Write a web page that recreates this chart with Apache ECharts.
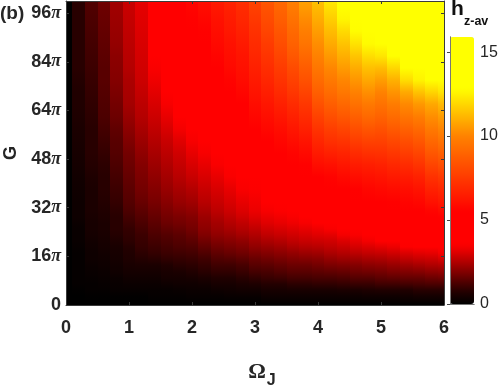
<!DOCTYPE html>
<html>
<head>
<meta charset="utf-8">
<style>html,body{margin:0;padding:0;background:#fff}#c{width:498px;height:387px}</style>
<script src="https://cdn.jsdelivr.net/npm/echarts@6/dist/echarts.min.js"></script>
</head>
<body>
<div id="c"></div>
<script>
const omega = [0,0.2,0.4,0.6,0.8,1,1.2,1.4,1.6,1.8,2,2.2,2.4,2.6,2.8,3,3.2,3.4,3.6,3.8,4,4.2,4.4,4.6,4.8,5,5.2,5.4,5.6,5.8,6];
const gPi = [0,2,4,6,8,10,12,14,16,18,20,22,24,26,28,30,32,36,40,44,48,52,56,60,64,68,72,76,80,84,88,92,96,100];
const xTickLabels = ['0','1','2','3','4','5','6'];
const yTickLabels = ['0','16','32','48','64','84','96'];
const colorbarTicks = ['0','5','10','15'];
// one list per Omega column, running up through gPi
const hzAv = [
[0,0,0,0,0,0,0,0,0,0,0,0,0,0,0,0,0,0,0,0,0,0,0,0,0,0,0,0,0,0,0,0,0,0],
[0,0,0,.1,.1,.1,.1,.1,.1,.1,.2,.2,.2,.2,.3,.3,.3,.3,.4,.4,.5,.5,.6,.6,.7,.7,.7,.8,.8,.8,.8,.8,.8,.8],
[0,0,.1,.1,.1,.2,.2,.3,.3,.3,.4,.4,.5,.5,.5,.6,.6,.6,.6,.7,.8,.8,.8,.8,.9,.9,1,1,1.1,1.1,1.2,1.2,1.3,1.3],
[0,0,.1,.1,.2,.2,.3,.3,.4,.4,.5,.5,.6,.6,.6,.7,.7,.8,.8,.8,.9,1,1.1,1.2,1.3,1.3,1.4,1.4,1.4,1.5,1.5,1.6,1.6,1.7],
[0,0,.1,.2,.2,.3,.4,.4,.5,.5,.6,.7,.8,.8,.8,.8,.9,1,1.1,1.2,1.3,1.4,1.4,1.6,1.7,1.8,1.9,2,2,2.1,2.2,2.2,2.3,2.3],
[0,0,.1,.2,.3,.4,.5,.6,.7,.7,.8,.9,.9,1,1.1,1.2,1.3,1.4,1.5,1.6,1.7,1.8,2,2.1,2.3,2.4,2.4,2.5,2.6,2.6,2.7,2.7,2.8,2.8],
[0,0,.1,.2,.3,.4,.5,.7,.8,.9,1,1,1.1,1.2,1.3,1.4,1.5,1.7,1.8,1.9,2,2.2,2.3,2.5,2.6,2.7,2.8,2.9,2.9,3,3,3.1,3.1,3.2],
[0,.1,.1,.2,.3,.4,.5,.7,.9,1,1.1,1.2,1.3,1.4,1.5,1.6,1.7,1.9,2,2.2,2.3,2.5,2.6,2.8,2.9,3.1,3.2,3.4,3.6,3.7,3.9,3.9,4,4],
[0,.1,.1,.2,.4,.5,.6,.8,1,1.1,1.2,1.3,1.4,1.6,1.7,1.8,1.9,2.1,2.3,2.4,2.6,2.7,2.9,3.1,3.3,3.6,3.7,3.9,4.2,4.3,4.5,4.6,4.7,4.8],
[0,.1,.1,.3,.4,.5,.7,.9,1,1.2,1.3,1.4,1.5,1.7,1.8,1.9,2.1,2.3,2.5,2.7,2.8,3,3.2,3.6,3.7,4.1,4.3,4.5,4.7,4.9,5,5.2,5.3,5.4],
[0,.1,.2,.3,.4,.6,.8,.9,1.1,1.2,1.4,1.5,1.7,1.8,1.9,2,2.2,2.4,2.7,2.9,3.1,3.3,3.6,4,4.2,4.4,4.6,4.8,5,5.2,5.3,5.5,5.6,5.7],
[0,.1,.2,.3,.5,.7,.9,1,1.2,1.4,1.6,1.8,2,2.1,2.2,2.3,2.5,2.7,2.9,3.1,3.3,3.6,3.8,4.1,4.3,4.5,4.7,5,5.2,5.4,5.5,5.6,5.8,6],
[0,.1,.2,.4,.6,.8,1,1.2,1.4,1.6,1.8,2,2.2,2.3,2.4,2.6,2.7,2.9,3.1,3.3,3.7,4.1,4.3,4.6,4.8,5,5.2,5.4,5.6,5.7,5.9,6,6.2,6.4],
[0,.1,.3,.4,.6,.8,1,1.2,1.5,1.7,1.9,2.1,2.3,2.5,2.6,2.8,2.9,3.1,3.3,3.7,4.2,4.4,4.7,4.9,5.1,5.3,5.5,5.7,5.9,6,6.2,6.4,6.5,6.7],
[0,.1,.3,.5,.7,.9,1.1,1.3,1.6,1.8,2,2.2,2.5,2.6,2.8,3,3.1,3.3,3.7,4.2,4.5,4.7,5,5.2,5.4,5.6,5.8,6,6.1,6.3,6.5,6.7,6.9,7.1],
[0,.1,.3,.5,.8,1,1.3,1.5,1.7,2,2.2,2.4,2.6,2.8,3,3.2,3.3,3.4,3.7,4.3,4.8,5.1,5.3,5.6,5.8,6.1,6.3,6.5,6.7,6.9,7.1,7.3,7.6,7.8],
[0,.2,.4,.6,.9,1.1,1.3,1.6,1.8,2.1,2.3,2.6,2.8,3,3.2,3.3,3.6,4.1,4.4,4.8,5.1,5.4,5.6,5.9,6.1,6.4,6.7,6.9,7.2,7.4,7.7,8,8.2,8.5],
[0,.2,.4,.6,.9,1.2,1.4,1.7,1.9,2.2,2.4,2.7,2.9,3.1,3.3,3.4,3.7,4.3,4.7,5,5.3,5.6,5.8,6.1,6.4,6.8,7.1,7.4,7.7,8,8.3,8.6,8.9,9.1],
[0,.2,.4,.7,1,1.3,1.5,1.8,2,2.3,2.6,2.8,3,3.2,3.4,3.6,4.1,4.5,4.9,5.2,5.5,5.8,6.1,6.4,6.8,7.2,7.6,7.9,8.3,8.7,9,9.3,9.6,9.9],
[0,.2,.4,.7,1,1.3,1.5,1.8,2.1,2.4,2.7,2.9,3.1,3.3,3.6,4.1,4.4,4.8,5.1,5.4,5.7,6,6.4,6.8,7.2,7.6,8.1,8.5,8.9,9.3,9.7,10,10.4,10.7],
[0,.2,.4,.7,1.1,1.3,1.6,1.9,2.1,2.5,2.7,3,3.2,3.4,4,4.3,4.6,5,5.3,5.7,6.2,6.6,7,7.5,8,8.6,9,9.4,9.8,10.1,10.4,10.8,11.1,11.4],
[0,.2,.4,.7,1.1,1.3,1.7,2,2.3,2.6,2.8,3,3.3,3.7,4.2,4.5,4.8,5.1,5.4,5.8,6.3,6.9,7.4,7.9,8.5,9,9.5,9.9,10.3,10.7,11.1,11.5,11.9,12.3],
[0,.2,.4,.8,1.1,1.4,1.7,2.1,2.4,2.7,2.9,3.2,3.6,4.1,4.4,4.7,5,5.3,5.6,6,6.5,7,7.6,8.2,8.8,9.4,9.9,10.3,10.8,11.2,11.7,12.3,12.9,13.2],
[0,.2,.4,.8,1.2,1.5,1.8,2.1,2.5,2.8,3.1,3.3,3.7,4.2,4.5,4.8,5.1,5.4,5.7,6.2,6.7,7.3,7.9,8.5,9.1,9.7,10.2,10.7,11.2,11.8,12.5,13,13.4,13.8],
[0,.2,.5,.8,1.2,1.5,1.9,2.2,2.6,2.9,3.2,3.6,4.1,4.4,4.7,5,5.2,5.5,5.9,6.3,6.8,7.5,8.1,8.8,9.4,10,10.6,11.1,11.7,12.4,13,13.5,14,14.4],
[0,.2,.5,.9,1.3,1.6,1.9,2.3,2.6,3,3.3,3.9,4.2,4.5,4.8,5.1,5.3,5.6,6,6.4,6.9,7.5,8,8.6,9.2,9.7,10.3,10.9,11.7,12.8,13.5,14,14.5,15],
[0,.2,.5,.9,1.3,1.7,2,2.4,2.7,3.1,3.4,4,4.3,4.6,4.9,5.2,5.4,5.7,6.1,6.6,7.1,7.7,8.3,8.9,9.5,10.1,10.7,11.4,12.4,13.2,13.8,14.4,14.9,15.2],
[0,.3,.5,.9,1.4,1.7,2.1,2.5,2.9,3.2,3.9,4.2,4.5,4.8,5,5.3,5.5,5.8,6.2,6.7,7.3,7.9,8.5,9.2,9.8,10.5,11.3,12.8,13.5,14,14.5,15,15.3,15.5],
[0,.3,.6,1,1.4,1.7,2.2,2.6,3,3.3,4,4.3,4.6,4.9,5.1,5.4,5.6,5.9,6.4,6.9,7.6,8.2,8.8,9.5,10.1,10.9,12,13.1,13.8,14.3,14.8,15.2,15.5,15.7],
[0,.3,.6,1,1.5,1.8,2.3,2.7,3,3.4,4.1,4.4,4.7,5,5.3,5.5,5.8,6.4,6.9,7.5,8.2,8.8,9.4,10,10.5,11.2,12.5,13.4,14,14.5,15,15.4,15.6,15.8],
[0,.3,.6,1,1.5,1.9,2.3,2.8,3.2,3.6,4.2,4.5,4.8,5.1,5.4,5.7,6,6.6,7.1,7.8,8.5,9.1,9.8,10.3,10.8,11.6,12.8,13.6,14.2,14.7,15.2,15.5,15.7,15.9]
];
const hMax = 15.9;
const colorStops = [[0,[0,0,0]],[.7,[32,0,0]],[3.3,[240,0,0]],[3.6,[255,0,0]],[5.5,[255,0,0]],[10,[255,130,0]],[12.8,[255,255,0]],[15.9,[255,255,0]]];
function colorAt(v){
  for(let i=1;i<colorStops.length;i++){
    const a=colorStops[i-1],b=colorStops[i];
    if(v<=b[0]){
      const t=(v-a[0])/(b[0]-a[0]);
      const c=a[1].map((p,k)=>Math.round(p+(b[1][k]-p)*t));
      return 'rgb('+c.join(',')+')';
    }
  }
  return 'rgb(255,255,0)';
}
const palette=[];
for(let i=0;i<=64;i++) palette.push(colorAt(hMax*i/64));

const cells=[];
omega.forEach((o,i)=>gPi.forEach((g,j)=>{
  const col=hzAv[i], last=gPi.length-1;
  const lo=j?(g+gPi[j-1])/2:g;
  const hi=j<last?(g+gPi[j+1])/2:g;
  const vLo=j?(col[j]+col[j-1])/2:col[j];
  const vHi=j<last?(col[j]+col[j+1])/2:col[j];
  cells.push([o,g,col[j],lo,hi,vLo,vHi]);
}));

const INK='#262626', FRAME='#3a3a3a', SANS='"Liberation Sans",Arial,sans-serif', SERIF='"Liberation Serif",serif';
const sideAxis=(extra)=>Object.assign({type:'value',z:10,splitLine:{show:false},
  axisLine:{show:true,onZero:false,lineStyle:{color:FRAME,width:1}},
  axisTick:{show:true,inside:true,length:3,lineStyle:{color:FRAME,width:1}},
  axisLabel:{show:false}},extra);

const chart=echarts.init(document.getElementById('c'),null,{renderer:'canvas'});
chart.setOption({
  animation:false,
  backgroundColor:'#fff',
  grid:[
    {left:66,right:54,top:1,bottom:82,outerBoundsMode:'none'},
    {left:450,right:24,top:37,bottom:83,outerBoundsMode:'none'}
  ],
  visualMap:{
    type:'continuous',min:0,max:hMax,dimension:2,seriesIndex:0,
    left:450,top:37,itemWidth:24,itemHeight:267,padding:0,
    calculable:false,realtime:false,hoverLink:false,
    inRange:{color:palette},textStyle:{color:'transparent'}
  },
  xAxis:[
    sideAxis({gridIndex:0,position:'bottom',min:0,max:6,interval:1,name:'{o|Ω}{s|J}',nameLocation:'middle',nameGap:50,
      nameTextStyle:{padding:[0,0,0,14],rich:{
        o:{fontFamily:SERIF,fontWeight:'bold',fontSize:22,color:INK},
        s:{fontFamily:SANS,fontWeight:'bold',fontSize:16,color:INK,padding:[18,0,0,1]}}},
      axisLabel:{show:true,margin:14,color:INK,fontFamily:SANS,fontWeight:'bold',fontSize:18,
        formatter:(v)=>xTickLabels[v]}}),
    sideAxis({gridIndex:0,position:'top',min:0,max:6,interval:1}),
    sideAxis({gridIndex:1,position:'bottom',min:0,max:1,axisTick:{show:false},axisLine:{lineStyle:{color:'#777'}}}),
    sideAxis({gridIndex:1,position:'top',min:0,max:1,axisTick:{show:false},axisLine:{lineStyle:{color:'#777'}}})
  ],
  yAxis:[
    sideAxis({gridIndex:0,position:'left',min:0,max:100,interval:16,name:'G',nameLocation:'middle',nameGap:44,nameRotate:90,
      nameTextStyle:{fontFamily:SANS,fontWeight:'bold',fontSize:18,color:INK},
      axisLabel:{show:true,margin:5,showMaxLabel:false,
        formatter:(v)=>{const t=yTickLabels[v/16];return t===undefined?'':(v===0?'{n|'+t+'}':'{n|'+t+'}{p|π}');},
        rich:{n:{fontFamily:SANS,fontWeight:'bold',fontSize:18,color:INK},
              p:{fontFamily:SERIF,fontWeight:'bold',fontStyle:'italic',fontSize:18,color:INK}}}}),
    sideAxis({gridIndex:0,position:'right',min:0,max:100,interval:16}),
    sideAxis({gridIndex:1,position:'right',min:0,max:hMax,interval:5,axisLine:{lineStyle:{color:'#777'}},
      axisTick:{inside:true,length:3,lineStyle:{color:'#444'}},
      axisLabel:{show:true,margin:6,color:INK,fontFamily:SANS,fontSize:16,showMaxLabel:false,
        formatter:(v)=>colorbarTicks[v/5]||''}}),
    sideAxis({gridIndex:1,position:'left',min:0,max:hMax,axisTick:{show:false},axisLine:{lineStyle:{color:'#777'}}})
  ],
  series:[{
    type:'custom',xAxisIndex:0,yAxisIndex:0,clip:true,silent:true,
    encode:{x:0,y:1},
    data:cells,
    renderItem:(params,api)=>{
      const o=api.value(0),lo=api.value(3),hi=api.value(4);
      const p0=api.coord([o-0.1,hi]),p1=api.coord([o+0.1,lo]);
      const x0=Math.round(p0[0]),x1=Math.round(p1[0]),y0=Math.round(p0[1]),y1=Math.round(p1[1]);
      return {type:'rect',shape:{x:x0,y:y0,width:x1-x0,height:y1-y0},
        style:{fill:new echarts.graphic.LinearGradient(0,0,0,1,[
          {offset:0,color:colorAt(api.value(6))},
          {offset:1,color:colorAt(api.value(5))}])}};
    }
  }],
  graphic:[
    {type:'text',left:0,top:4,z:20,style:{text:'(b)',font:'bold 19px '+SANS,fill:INK}},
    {type:'text',left:451,top:-1,z:20,style:{text:'h',font:'bold 21px '+SANS,fill:'#111'}},
    {type:'text',left:464,top:15,z:20,style:{text:'z-av',font:'bold 12.5px '+SANS,fill:'#111'}}
  ]
});
</script>
</body>
</html>
